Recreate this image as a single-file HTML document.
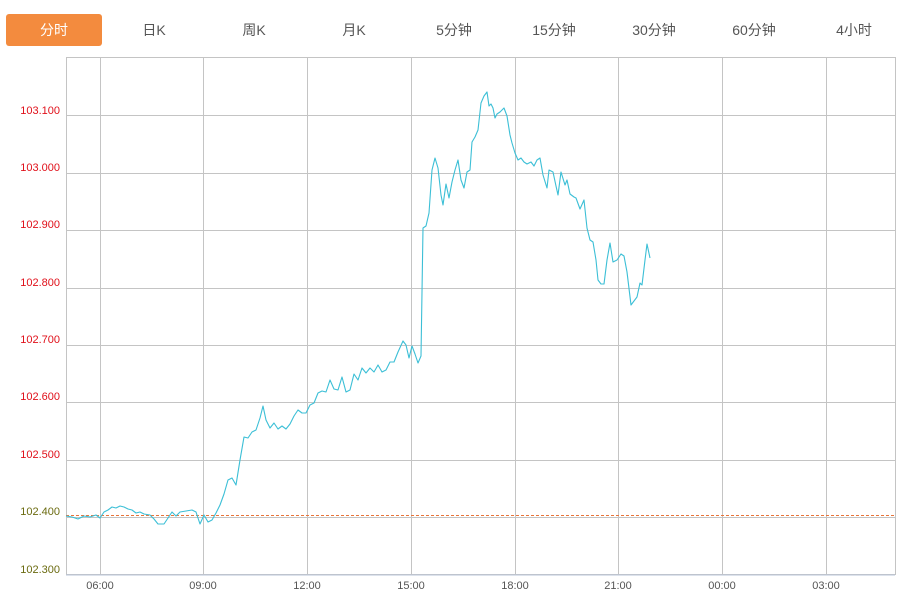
<!DOCTYPE html><html><head><meta charset="utf-8"><style>
body{margin:0;width:912px;height:598px;background:#fff;overflow:hidden;font-family:"Liberation Sans","Noto Sans CJK SC",sans-serif}
.tab{position:absolute;top:14px;height:32px;line-height:32px;font-size:14px;color:#555;text-align:center;width:96px}
</style></head><body>
<div class="tab" style="left:6px;background:#f38b3e;color:#fff;border-radius:3px">分时</div>
<div class="tab" style="left:106px">日K</div>
<div class="tab" style="left:206px">周K</div>
<div class="tab" style="left:306px">月K</div>
<div class="tab" style="left:406px">5分钟</div>
<div class="tab" style="left:506px">15分钟</div>
<div class="tab" style="left:606px">30分钟</div>
<div class="tab" style="left:706px">60分钟</div>
<div class="tab" style="left:806px">4小时</div>
<svg width="912" height="598" style="position:absolute;left:0;top:0" font-family="Liberation Sans,sans-serif">
<g stroke="#c4c4c4" stroke-width="1" fill="none">
<rect x="66.5" y="57.5" width="829" height="517"/>
<path d="M66 115.5H895M66 173.5H895M66 230.5H895M66 288.5H895M66 345.5H895M66 402.5H895M66 460.5H895M66 517.5H895"/>
<path d="M100.5 57V575M203.5 57V575M307.5 57V575M411.5 57V575M515.5 57V575M618.5 57V575M722.5 57V575M826.5 57V575"/>
</g>
<line x1="66" y1="575" x2="895" y2="575" stroke="#b8c4d8"/>
<line x1="66" y1="515.5" x2="895" y2="515.5" stroke="#e8743a" stroke-dasharray="3,2" stroke-width="1"/>
<g font-size="11" fill="#e0101a" text-anchor="end">
<text x="60" y="114">103.100</text><text x="60" y="171">103.000</text><text x="60" y="228">102.900</text><text x="60" y="286">102.800</text><text x="60" y="343">102.700</text><text x="60" y="400">102.600</text><text x="60" y="458">102.500</text>
<text x="60" y="515" fill="#6b6b10">102.400</text><text x="60" y="573" fill="#6b6b10">102.300</text></g>
<g font-size="11" fill="#555" text-anchor="middle">
<text x="100" y="589">06:00</text><text x="203" y="589">09:00</text><text x="307" y="589">12:00</text><text x="411" y="589">15:00</text><text x="515" y="589">18:00</text><text x="618" y="589">21:00</text><text x="722" y="589">00:00</text><text x="826" y="589">03:00</text></g>
<polyline fill="none" stroke="#3cbfd6" stroke-width="1.1" stroke-linejoin="round" points="66,516 72,517 78,519 84,516 90,517 96,515 100,518 104,512 108,510 112,507 116,508 120,506 124,507 128,509 132,510 136,513 140,512 144,514 150,515 154,519 158,524 164,524 168,518 172,512 176,516 180,512 186,511 192,510 196,512 200,524 204,515 208,522 212,520 216,513 220,505 224,494 228,480 232,478 236,485 240,460 244,437 248,438 252,432 256,430 260,418 263,406 266,420 270,428 274,423 278,429 282,426 286,429 290,424 294,416 298,410 302,413 306,413 310,405 314,403 318,393 322,391 326,392 330,380 334,389 338,390 342,377 346,392 350,390 354,374 358,380 362,368 366,373 370,368 374,372 378,365 382,372 386,370 390,362 394,362 398,352 403,341 406,345 409,358 412,346 415,354 418,363 421,356 423,228 426,226 429,213 432,170 435,158 438,168 441,195 443,205 446,184 449,198 452,182 455,170 458,160 461,180 464,188 467,172 470,170 472,142 475,137 478,130 481,103 484,96 487,92 489,106 491,104 493,108 495,118 497,114 500,112 504,108 507,116 510,135 512,143 515,153 518,160 521,158 524,162 527,164 531,162 534,166 537,160 540,158 543,175 547,188 549,170 553,172 556,186 558,195 561,172 565,185 567,180 570,194 574,197 576,198 580,209 584,200 587,228 590,240 593,242 596,260 598,280 601,284 604,284 607,260 610,243 613,262 617,260 621,254 624,256 627,272 631,305 637,297 640,283 642,285 645,260 647,244 650,258"/>
</svg>
</body></html>
